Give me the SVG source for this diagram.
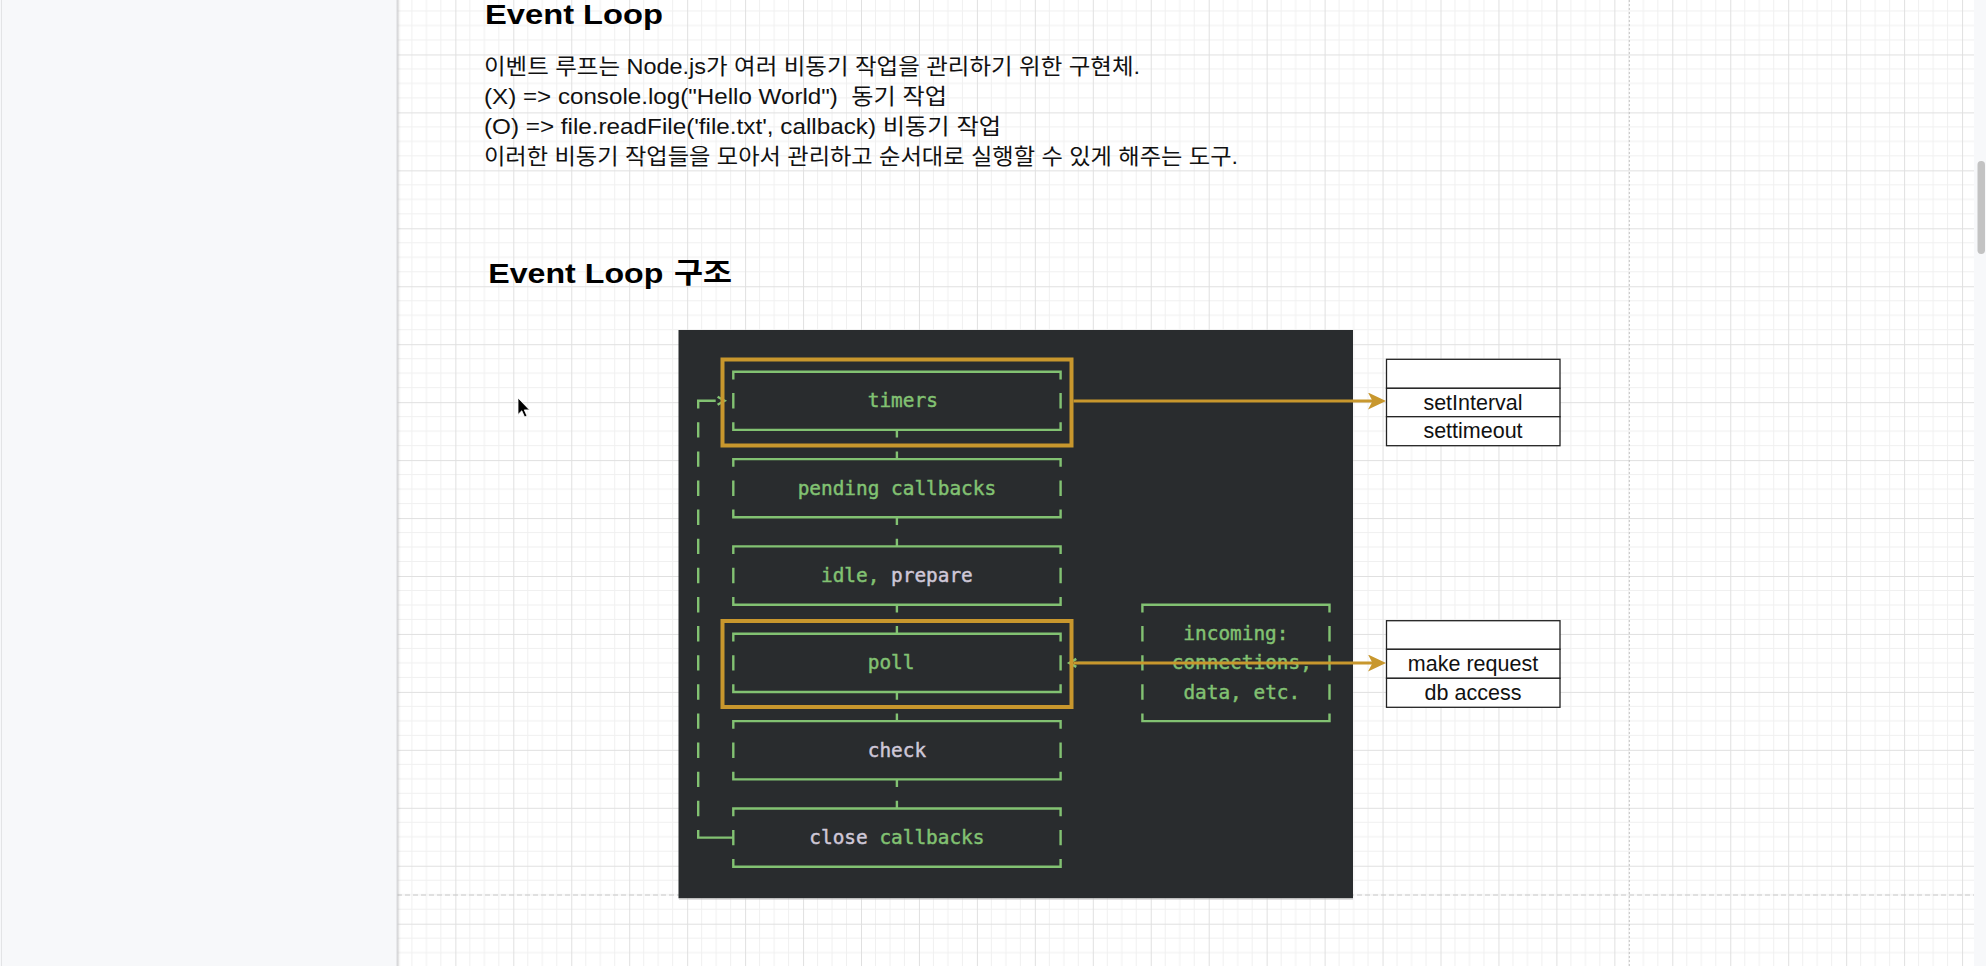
<svg xmlns="http://www.w3.org/2000/svg" width="1986" height="966" viewBox="0 0 1986 966">
<defs>
  <pattern id="grid" patternUnits="userSpaceOnUse" x="397.4" y="-3.5" width="57.95" height="57.95">
    <path d="M14.49,0V57.95M28.98,0V57.95M43.46,0V57.95M0,14.49H57.95M0,28.98H57.95M0,43.46H57.95" stroke="#f0f0f0" stroke-width="1" fill="none"/>
    <path d="M0.5,0V57.95M0,0.5H57.95" stroke="#e0e0e0" stroke-width="1" fill="none"/>
  </pattern>
  <linearGradient id="shadow" x1="0" y1="0" x2="1" y2="0">
    <stop offset="0" stop-color="#000" stop-opacity="0.10"/>
    <stop offset="1" stop-color="#000" stop-opacity="0"/>
  </linearGradient>
  <marker id="arrow" markerUnits="userSpaceOnUse" viewBox="0 0 18 17" refX="12" refY="8.5" markerWidth="18" markerHeight="17" orient="auto">
    <path d="M0,0 L18,8.5 L0,17 L4.5,8.5 Z" fill="#c8972d"/>
  </marker>
</defs>
<style>
  .mono{font-family:"DejaVu Sans Mono","Liberation Mono",monospace;font-size:19.4px;text-anchor:middle;stroke-width:0.45px}
  .g{fill:#82c272;stroke:#82c272}
  .lv{fill:#cfc8d8;stroke:#cfc8d8}
  .ascii{fill:none;stroke:#82c272;stroke-width:2.4}
  .orange{fill:none;stroke:#c8972d;stroke-width:4}
  .conn{fill:none;stroke:#c8972d;stroke-width:3}
  .cell{fill:#fff;stroke:#222;stroke-width:1.3}
  .cellt{font-family:"Liberation Sans",Arial,sans-serif;font-size:21.5px;fill:#111;text-anchor:middle}
  .body{font-family:"Liberation Sans","Noto Sans CJK KR",sans-serif;font-size:21.5px;fill:#111}
  .h{font-family:"Liberation Sans","Noto Sans CJK KR",sans-serif;font-weight:bold;font-size:28.5px;fill:#000}
</style>

<!-- canvas background -->
<g id="canvas">
  <rect x="0" y="0" width="1986" height="966" fill="#ffffff"/>
  <rect x="397" y="0" width="1577" height="966" fill="url(#grid)"/>
  <line x1="1629.3" y1="0" x2="1629.3" y2="966" stroke="#c4c4c4" stroke-width="1" stroke-dasharray="2 2"/>
  <line x1="397" y1="895" x2="1974" y2="895" stroke="#c8c8c8" stroke-width="1" stroke-dasharray="5 3"/>
  <rect x="0" y="0" width="397" height="966" fill="#f7f8fa"/>
  <line x1="1.5" y1="0" x2="1.5" y2="966" stroke="#e3e4e6" stroke-width="1"/>
  <rect x="397" y="0" width="4" height="966" fill="url(#shadow)"/>
  <line x1="397" y1="0" x2="397" y2="966" stroke="#d9dadd" stroke-width="1"/>
  <rect x="1974" y="0" width="12" height="966" fill="#f7f8fa"/>
  <rect x="1977.5" y="161" width="7.5" height="93" rx="3.7" fill="#c3c3c3"/>
</g>

<!-- texts -->
<g id="title">
  <text class="h" x="485" y="23.5" font-size="28.5" textLength="178" lengthAdjust="spacingAndGlyphs">Event Loop</text>
</g>
<g id="description">
  <text class="body" x="484" y="74" textLength="656" lengthAdjust="spacingAndGlyphs">이벤트 루프는 Node.js가 여러 비동기 작업을 관리하기 위한 구현체.</text>
  <text class="body" x="484" y="104" textLength="463" lengthAdjust="spacingAndGlyphs" xml:space="preserve">(X) =&gt; console.log("Hello World")  동기 작업</text>
  <text class="body" x="484" y="134" textLength="517" lengthAdjust="spacingAndGlyphs">(O) =&gt; file.readFile('file.txt', callback) 비동기 작업</text>
  <text class="body" x="484" y="164" textLength="754" lengthAdjust="spacingAndGlyphs">이러한 비동기 작업들을 모아서 관리하고 순서대로 실행할 수 있게 해주는 도구.</text>
</g>
<g id="subtitle">
  <text class="h" y="283.3"><tspan x="488.3" textLength="175" lengthAdjust="spacingAndGlyphs">Event Loop</tspan> <tspan x="674" textLength="58" lengthAdjust="spacingAndGlyphs">구조</tspan></text>
</g>

<!-- event loop picture -->
<g id="event-loop-panel">
  <rect x="678.5" y="330" width="674.5" height="568.3" fill="#292c2e"/>
  <line x1="679" y1="899" x2="1353" y2="899" stroke="#bfbfbf" stroke-width="1"/>
</g>

<g id="loop-back" class="ascii">
  <path d="M698.2,408.5 V400.8 H715.7"/>
  <path d="M717.6,396.8 L724.6,400.8 L717.6,404.8"/>
  <path d="M698.2,422.2V437.6 M698.2,451.4V466.8 M698.2,480.5V495.9 M698.2,509.6V525.0 M698.2,538.7V554.1 M698.2,567.8V583.2 M698.2,597.0V612.4 M698.2,626.1V641.5 M698.2,655.2V670.6 M698.2,684.3V699.7 M698.2,713.4V728.8 M698.2,742.6V758.0 M698.2,771.7V787.1 M698.2,800.8V816.2"/>
  <path d="M698.2,829.9 V837.6 H733.3"/>
</g>

<g id="phase-timers">
  <path class="ascii" d="M733.3,379.4V371.7H1060.6V379.4 M733.3,393.1V408.5 M1060.6,393.1V408.5 M733.3,422.2V429.9H1060.6V422.2 M896.9,429.9V437.6"/>
  <text class="mono g" x="902.8" y="407.3">timers</text>
</g>
<g id="phase-pending">
  <path class="ascii" d="M896.9,451.4V459.1 M733.3,466.8V459.1H1060.6V466.8 M733.3,480.5V495.9 M1060.6,480.5V495.9 M733.3,509.6V517.3H1060.6V509.6 M896.9,517.3V525.0"/>
  <text class="mono g" x="896.9" y="494.7">pending callbacks</text>
</g>
<g id="phase-idle">
  <path class="ascii" d="M896.9,538.7V546.4 M733.3,554.1V546.4H1060.6V554.1 M733.3,567.8V583.2 M1060.6,567.8V583.2 M733.3,597.0V604.7H1060.6V597.0 M896.9,604.7V612.4"/>
  <text class="mono g" x="896.9" y="582.0">idle,<tspan class="lv"> prepare</tspan></text>
</g>
<g id="phase-poll">
  <path class="ascii" d="M896.9,626.1V633.8 M733.3,641.5V633.8H1060.6V641.5 M733.3,655.2V670.6 M1060.6,655.2V670.6 M733.3,684.3V692.0H1060.6V684.3 M896.9,692.0V699.7"/>
  <text class="mono g" x="891.1" y="669.4">poll</text>
</g>
<g id="phase-check">
  <path class="ascii" d="M896.9,713.4V721.1 M733.3,728.8V721.1H1060.6V728.8 M733.3,742.6V758.0 M1060.6,742.6V758.0 M733.3,771.7V779.4H1060.6V771.7 M896.9,779.4V787.1"/>
  <text class="mono lv" x="896.9" y="756.8">check</text>
</g>
<g id="phase-close">
  <path class="ascii" d="M896.9,800.8V808.5 M733.3,816.2V808.5H1060.6V816.2 M733.3,829.9V845.3 M1060.6,829.9V845.3 M733.3,859.0V866.7H1060.6V859.0"/>
  <text class="mono lv" x="896.9" y="844.1">close<tspan class="g"> callbacks</tspan></text>
</g>
<g id="incoming">
  <path class="ascii" d="M1142.4,612.4V604.7H1329.5V612.4 M1142.4,626.1V641.5 M1329.5,626.1V641.5 M1142.4,655.2V670.6 M1329.5,655.2V670.6 M1142.4,684.3V699.7 M1329.5,684.3V699.7 M1142.4,713.4V721.1H1329.5V713.4"/>
  <path class="ascii" d="M1078.1,662.9H1142.4 M1076.3,658.9 L1069.3,662.9 L1076.3,666.9"/>
  <text class="mono g" x="1235.9" y="640.3">incoming:</text>
  <text class="mono g" x="1241.8" y="669.4">connections,</text>
  <text class="mono g" x="1241.8" y="698.5">data, etc.</text>
</g>

<g id="timers-highlight">
  <rect class="orange" x="722.5" y="359.5" width="349" height="86"/>
</g>
<g id="poll-highlight">
  <rect class="orange" x="722.5" y="621" width="349" height="86"/>
</g>

<g id="timers-table">
  <rect class="cell" x="1386.5" y="359.3" width="173.5" height="29"/>
  <rect class="cell" x="1386.5" y="388.3" width="173.5" height="28.4"/>
  <rect class="cell" x="1386.5" y="416.7" width="173.5" height="29"/>
  <text class="cellt" x="1473" y="410">setInterval</text>
  <text class="cellt" x="1473" y="438.3">settimeout</text>
</g>
<g id="io-table">
  <rect class="cell" x="1386.5" y="620.7" width="173.5" height="28.6"/>
  <rect class="cell" x="1386.5" y="649.3" width="173.5" height="29"/>
  <rect class="cell" x="1386.5" y="678.3" width="173.5" height="29"/>
  <text class="cellt" x="1473" y="670.7">make request</text>
  <text class="cellt" x="1473" y="700">db access</text>
</g>

<g id="connectors">
  <path class="conn" d="M1073.5,401 H1380" marker-end="url(#arrow)"/>
  <path class="conn" d="M1073.5,663 H1380" marker-end="url(#arrow)"/>
</g>

<g id="cursor">
  <path d="M518,398 V414.5 L521.8,410.8 L524.6,417 L527,416 L524.3,409.9 L529.5,409.9 Z" fill="#000" stroke="#fff" stroke-width="0.8"/>
</g>
</svg>
